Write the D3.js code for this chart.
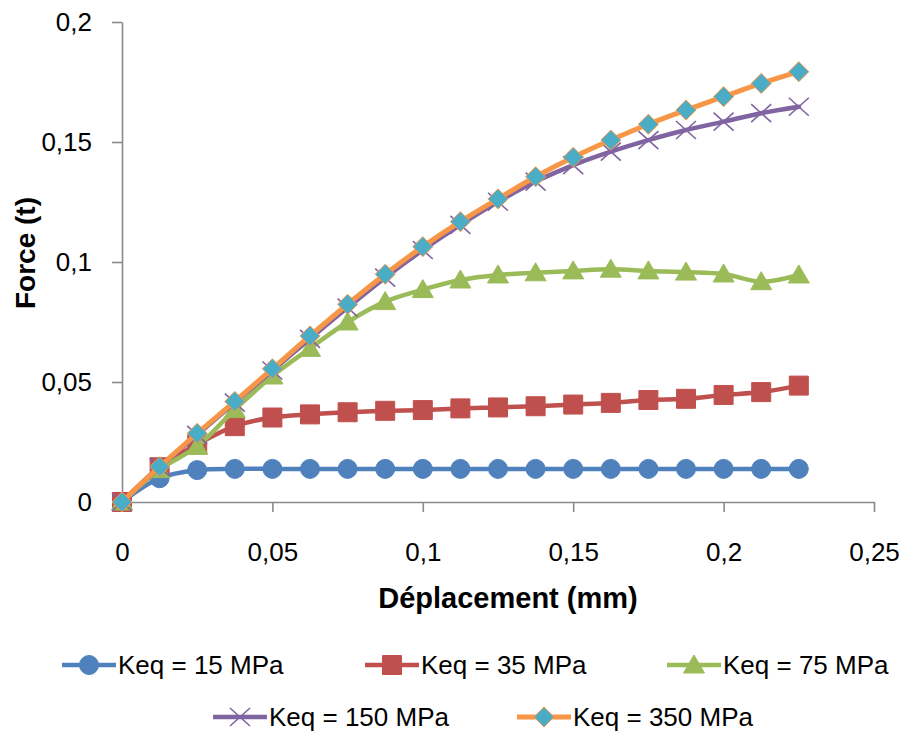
<!DOCTYPE html>
<html>
<head>
<meta charset="utf-8">
<script src="https://cdn.jsdelivr.net/npm/d3@7"></script>
<style>
  html, body { margin: 0; padding: 0; background: #fff; }
  svg { display: block; font-family: "Liberation Sans", Arial, sans-serif; }
</style>
</head>
<body>
<svg id="chart" width="906" height="733"></svg>
<script>
// ---------- DATA ----------
const xValues = [0, 0.0125, 0.025, 0.0375, 0.05, 0.0625, 0.075, 0.0875, 0.1, 0.1125,
                 0.125, 0.1375, 0.15, 0.1625, 0.175, 0.1875, 0.2, 0.2125, 0.225];
const keq15  = [0, 0.0099, 0.0133, 0.0138, 0.0138, 0.0138, 0.0138, 0.0138, 0.0138, 0.0138,
                0.0138, 0.0138, 0.0138, 0.0138, 0.0138, 0.0138, 0.0138, 0.0138, 0.0138];
const keq35  = [0, 0.0145, 0.0240, 0.0316, 0.0352, 0.0365, 0.0374, 0.0380, 0.0383, 0.0390,
                0.0394, 0.0399, 0.0406, 0.0413, 0.0425, 0.0430, 0.0446, 0.0458, 0.0485];
const keq75  = [0, 0.0135, 0.0232, 0.0385, 0.0525, 0.0640, 0.0750, 0.0835, 0.0885, 0.0925,
                0.0946, 0.0955, 0.0963, 0.0970, 0.0963, 0.0958, 0.0950, 0.0918, 0.0946];
const keq150 = [0, 0.0145, 0.0280, 0.0414, 0.0548, 0.0680, 0.0810, 0.0935, 0.1050, 0.1155,
                0.1251, 0.1335, 0.1404, 0.1460, 0.1508, 0.1550, 0.1585, 0.1620, 0.1647];
const keq350 = [0, 0.0147, 0.0286, 0.0419, 0.0555, 0.0692, 0.0824, 0.0949, 0.1064, 0.1168,
                0.1263, 0.1355, 0.1436, 0.1508, 0.1574, 0.1633, 0.1689, 0.1744, 0.1793];
const seriesNames = ["Keq = 15 MPa", "Keq = 35 MPa", "Keq = 75 MPa", "Keq = 150 MPa", "Keq = 350 MPa"];
const xTickValues = [0, 0.05, 0.1, 0.15, 0.2, 0.25];
const xTickLabels = ["0", "0,05", "0,1", "0,15", "0,2", "0,25"];
const yTickValues = [0, 0.05, 0.1, 0.15, 0.2];
const yTickLabels = ["0", "0,05", "0,1", "0,15", "0,2"];
const xTitle = "Déplacement (mm)";
const yTitle = "Force (t)";

// ---------- STYLE ----------
const seriesValues = [keq15, keq35, keq75, keq150, keq350];
const lineColors   = ["#4F81BD", "#C0504D", "#9BBB59", "#8064A2", "#F79646"];
const markerTypes  = ["circle", "square", "triangle", "x", "diamond"];
const markerFill   = ["#4F81BD", "#C0504D", "#9BBB59", "none", "#4BACC6"];
const markerStroke = ["#4F81BD", "#C0504D", "#9BBB59", "#8064A2", "#F79646"];
const lineWidths   = [4.5, 4.5, 4.5, 4.5, 5];
const axisColor = "#8a8a8a";

const svg = d3.select("#chart");
const x = d3.scaleLinear().domain([0, 0.25]).range([122, 874]);
const y = d3.scaleLinear().domain([0, 0.2]).range([502, 22]);

// axes
const xAxis = d3.axisBottom(x).tickValues(xTickValues)
  .tickFormat((d, i) => xTickLabels[i]).tickSize(10).tickSizeOuter(0).tickPadding(31);
const yAxis = d3.axisLeft(y).tickValues(yTickValues)
  .tickFormat((d, i) => yTickLabels[i]).tickSize(10).tickSizeOuter(0).tickPadding(20);

const gx = svg.append("g").attr("transform", "translate(0,502)").call(xAxis);
const gy = svg.append("g").attr("transform", "translate(122,0)").call(yAxis);
[gx, gy].forEach(g => {
  g.select(".domain").attr("stroke", axisColor).attr("stroke-width", 1.6);
  g.selectAll(".tick line").attr("stroke", axisColor).attr("stroke-width", 1.6);
  g.selectAll(".tick text").attr("fill", "#000").style("font-size", "26px")
    .style("font-family", '"Liberation Sans", Arial, sans-serif');
});

// titles
svg.append("text").attr("x", 508).attr("y", 608).attr("text-anchor", "middle")
  .style("font-size", "29px").style("font-weight", "bold").attr("fill", "#000").text(xTitle);
svg.append("text").attr("transform", "translate(35,253) rotate(-90)").attr("text-anchor", "middle")
  .style("font-size", "28px").style("font-weight", "bold").attr("fill", "#000").text(yTitle);

// marker path generator
function markerPath(type, cx, cy) {
  const p = d3.path();
  if (type === "circle") {
    p.moveTo(cx + 9.5, cy); p.arc(cx, cy, 9.5, 0, 2 * Math.PI);
  } else if (type === "square") {
    p.rect(cx - 9.5, cy - 9.5, 19, 19);
  } else if (type === "triangle") {
    p.moveTo(cx, cy - 10); p.lineTo(cx + 10.5, cy + 8); p.lineTo(cx - 10.5, cy + 8); p.closePath();
  } else if (type === "diamond") {
    p.moveTo(cx, cy - 10); p.lineTo(cx + 10, cy); p.lineTo(cx, cy + 10); p.lineTo(cx - 10, cy); p.closePath();
  } else if (type === "x") {
    p.moveTo(cx - 10, cy - 9); p.lineTo(cx + 10, cy + 9);
    p.moveTo(cx - 10, cy + 9); p.lineTo(cx + 10, cy - 9);
  }
  return p.toString();
}
function drawMarker(g, s, cx, cy) {
  g.append("path").attr("d", markerPath(markerTypes[s], cx, cy))
    .attr("fill", markerFill[s])
    .attr("stroke", markerStroke[s])
    .attr("stroke-width", markerTypes[s] === "x" ? 1.6 : 1);
}

// series
const line = d3.line().curve(d3.curveCatmullRom.alpha(0.5))
  .x(d => x(d[0])).y(d => y(d[1]));
seriesValues.forEach((vals, s) => {
  const pts = xValues.map((xv, i) => [xv, vals[i]]);
  const g = svg.append("g");
  g.append("path").attr("d", line(pts)).attr("fill", "none")
    .attr("stroke", lineColors[s]).attr("stroke-width", lineWidths[s])
    .attr("stroke-linejoin", "round").attr("stroke-linecap", "round");
  pts.forEach(p => drawMarker(g, s, x(p[0]), y(p[1])));
});

// legend
const legendPos = [[62, 665], [365, 665], [667, 665], [213, 717], [517, 717]];
seriesNames.forEach((name, s) => {
  const [lx, ly] = legendPos[s];
  const g = svg.append("g");
  g.append("line").attr("x1", lx).attr("x2", lx + 54).attr("y1", ly).attr("y2", ly)
    .attr("stroke", lineColors[s]).attr("stroke-width", lineWidths[s]);
  drawMarker(g, s, lx + 27, ly);
  g.append("text").attr("x", lx + 56).attr("y", ly + 9)
    .style("font-size", "26px").attr("fill", "#000").text(name);
});
</script>
</body>
</html>
